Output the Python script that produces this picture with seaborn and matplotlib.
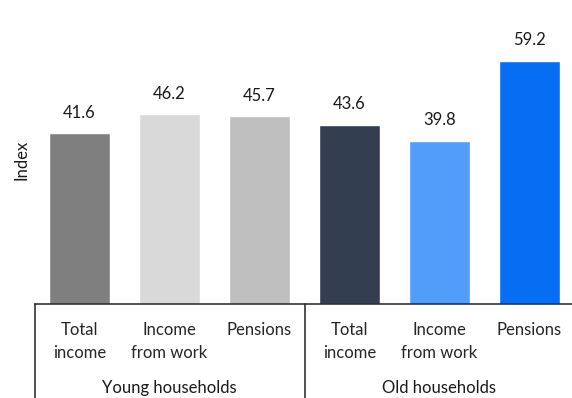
import matplotlib
matplotlib.use("Agg")
import matplotlib.pyplot as plt
import seaborn as sns
import pandas as pd

# Income index by household type and income source
groups = ["Young households"] * 3 + ["Old households"] * 3
measures = ["Total\nincome", "Income\nfrom work", "Pensions"] * 2
values = [41.6, 46.2, 45.7, 43.6, 39.8, 59.2]
colors = ["#7f7f7f", "#d9d9d9", "#bfbfbf", "#333f50", "#529dfa", "#066ef3"]
group_names = ["Young households", "Old households"]

df = pd.DataFrame({"group": groups, "measure": measures, "value": values})
df["bar"] = [f"{g} | {m}" for g, m in zip(groups, measures)]

sns.set_theme(style="white")
plt.rcParams["font.family"] = ["Lato", "DejaVu Sans"]
plt.rcParams["text.color"] = "#1a1a1a"

W, H, DPI = 572, 398, 100
fig = plt.figure(figsize=(W / DPI, H / DPI), dpi=DPI)
left_px, right_px, bottom_px = 34.5, 574.5, 304
ax = fig.add_axes([left_px / W, 1 - bottom_px / H, (right_px - left_px) / W, bottom_px / H])

sns.barplot(data=df, x="bar", y="value", hue="bar", order=df["bar"],
            hue_order=df["bar"], palette=colors, width=0.68, legend=False,
            saturation=1, ax=ax)

ax.set_xlim(-0.5, len(values) - 0.5)
ax.set_ylim(0, 74.06)
ax.set_xlabel("")
ax.set_ylabel("")
ax.set_yticks([])
for side in ["left", "right", "top"]:
    ax.spines[side].set_visible(False)
ax.spines["bottom"].set_color("#222222")
ax.spines["bottom"].set_linewidth(1.1)

# value labels above bars
for i, v in enumerate(values):
    ax.annotate(f"{v:.1f}", xy=(i, v), xytext=(0, 11.3), textcoords="offset points",
                ha="center", va="baseline", fontsize=12)

# category tick labels
ax.set_xticks(range(len(values)))
ax.set_xticklabels(measures, fontsize=12, linespacing=1.5, va="top")
ax.tick_params(axis="x", length=0, pad=13)

# group labels and separators
xt = ax.get_xaxis_transform()
n_per = len(values) // len(group_names)
for gi, name in enumerate(group_names):
    center = gi * n_per + (n_per - 1) / 2
    ax.annotate(name, xy=(center, 0), xycoords=xt, xytext=(0, -64.3),
                textcoords="offset points", ha="center", va="baseline", fontsize=12)
for b in range(len(group_names) + 1):
    ax.plot([b * n_per - 0.5] * 2, [0, -0.32], transform=xt, color="#222222",
            lw=1.1, clip_on=False)

fig.text(21 / W, 1 - 160 / H, "Index", rotation=90, ha="center", va="center", fontsize=12)

fig.savefig("out.png", dpi=DPI)
